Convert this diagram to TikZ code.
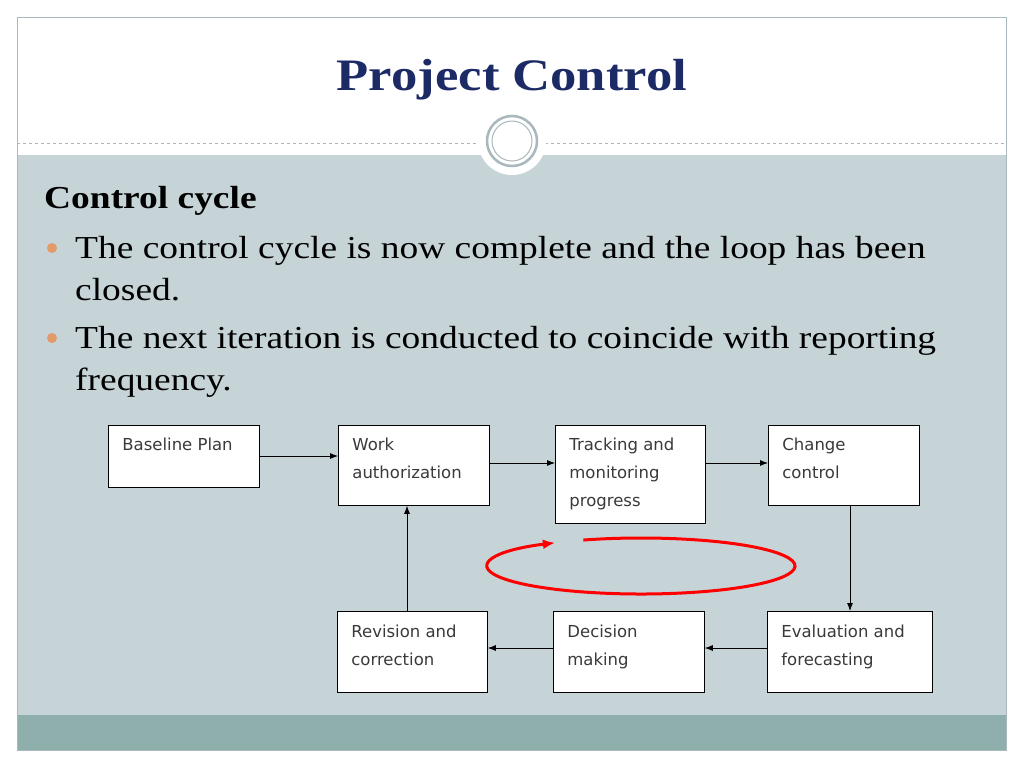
\documentclass[tikz,border=0pt]{standalone}
\usepackage{fontspec}
\setmainfont{Liberation Serif}[FakeStretch=1.17]
\newfontfamily\boxfont{DejaVu Sans}
\usetikzlibrary{arrows.meta,calc}
\definecolor{titleblue}{HTML}{1C2A66}
\definecolor{bodybg}{HTML}{C6D4D8}
\definecolor{bandbg}{HTML}{8FAFAD}
\definecolor{framegray}{HTML}{A8B8BC}
\definecolor{bulletcol}{HTML}{E39A6A}
\definecolor{boxtext}{HTML}{3A3A3A}
\tikzset{
  stepbox/.style={draw=black, fill=white, line width=0.8pt, anchor=north west,
    inner sep=0pt, font=\boxfont\fontsize{16.5}{28}\selectfont, text=boxtext},
  boxlabel/.style={stepbox, draw=none, fill=none, align=left},
  flow/.style={-{Latex[length=8pt,width=6pt]}, line width=0.8pt},
  bodyline/.style={anchor=base west, inner sep=0pt, font=\fontsize{32}{36}\selectfont}
}
\begin{document}
\begin{tikzpicture}[x=1pt, y=-1pt]
\useasboundingbox (0,0) rectangle (1024,768);
\fill[white] (0,0) rectangle (1024,768);
% slide frame
\fill[bodybg] (17,155) rectangle (1006,715);
\fill[bandbg] (17,715) rectangle (1006,750);
\draw[framegray, line width=0.8pt] (17,17) rectangle (1006,750);
\draw[framegray, dashed, line width=0.6pt] (17,143) -- (1006,143);
\fill[white] (512,141) circle (34);
\draw[framegray, line width=2.5pt, fill=white] (512,141) circle (25);
\draw[framegray, line width=1pt] (512,141) circle (20);
% title
\node[font=\bfseries\fontsize{45}{50}\selectfont, text=titleblue] (title) at (512,80) {Project Control};
% body text
\node[bodyline, font=\bfseries\fontsize{32}{36}\selectfont] (head) at (44,208) {Control cycle};
\fill[bulletcol] (52,248) circle (5);
\node[bodyline] (l1) at (75,258) {The control cycle is now complete and the loop has been};
\node[bodyline] (l2) at (75,300) {closed.};
\fill[bulletcol] (52,338) circle (5);
\node[bodyline] (l3) at (75,348) {The next iteration is conducted to coincide with reporting};
\node[bodyline] (l4) at (75,390) {frequency.};
% boxes
\node[stepbox, minimum width=151pt, minimum height=62pt] (base) at (108,425) {};
\node[boxlabel] (basetxt) at (122,438) {Baseline Plan};
\node[stepbox, minimum width=151pt, minimum height=80pt] (work) at (338,425) {};
\node[boxlabel] (worktxt) at (352,438) {Work\\authorization};
\node[stepbox, minimum width=150pt, minimum height=98pt] (track) at (555,425) {};
\node[boxlabel] (tracktxt) at (569,438) {Tracking and\\monitoring\\progress};
\node[stepbox, minimum width=151pt, minimum height=80pt] (change) at (768,425) {};
\node[boxlabel] (changetxt) at (782,438) {Change\\control};
\node[stepbox, minimum width=150pt, minimum height=81pt] (revis) at (337,611) {};
\node[boxlabel] (revistxt) at (351,625) {Revision and\\correction};
\node[stepbox, minimum width=151pt, minimum height=81pt] (decis) at (553,611) {};
\node[boxlabel] (decistxt) at (567,625) {Decision\\making};
\node[stepbox, minimum width=165pt, minimum height=81pt] (evalu) at (767,611) {};
\node[boxlabel] (evalutxt) at (781,625) {Evaluation and\\forecasting};
% connectors
\draw[flow] (base.east |- 0,456) -- (work.west |- 0,456);
\draw[flow] (work.east |- 0,463) -- (track.west |- 0,463);
\draw[flow] (track.east |- 0,463) -- (change.west |- 0,463);
\draw[flow] (change.south -| 850,0) -- (evalu.north -| 850,0);
\draw[flow] (evalu.west |- 0,648) -- (decis.east |- 0,648);
\draw[flow] (decis.west |- 0,648) -- (revis.east |- 0,648);
\draw[flow] (revis.north -| 407,0) -- (work.south -| 407,0);
% loop
\coordinate (loopc) at (641,566);
\draw[red, line width=3pt, -{Latex[length=12pt,width=10pt]}] ($(loopc)+(-112:154 and 28)$)
  arc[start angle=-112, end angle=236, x radius=154, y radius=28];
\end{tikzpicture}
\end{document}
